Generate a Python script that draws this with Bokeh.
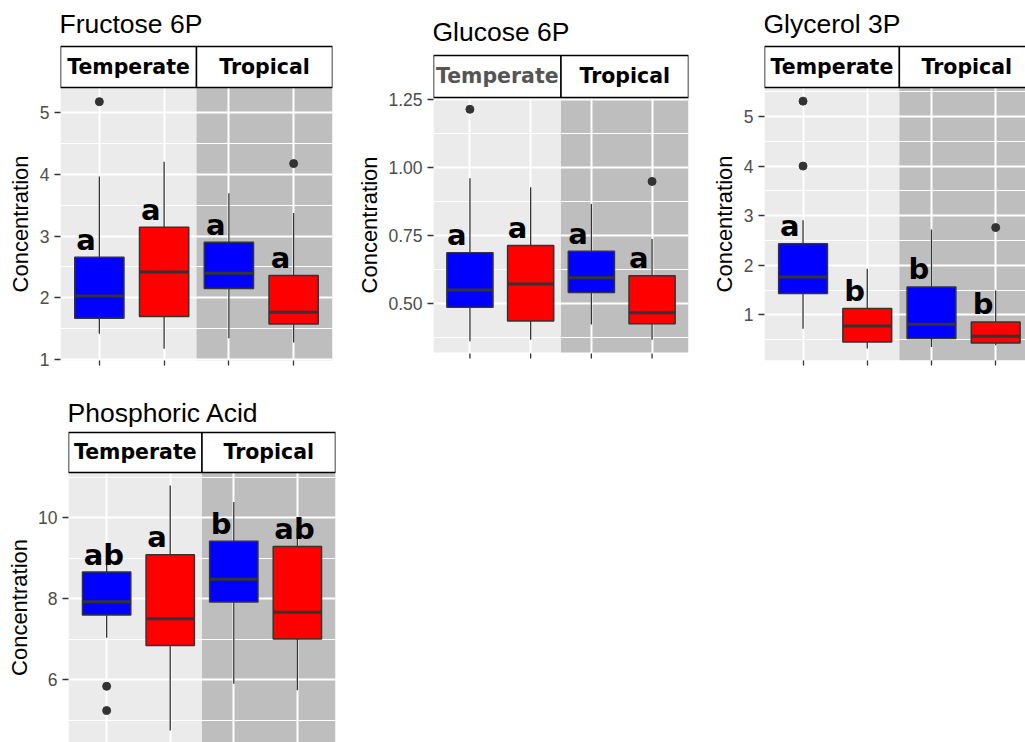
from bokeh.plotting import figure
from bokeh.layouts import row, column
from bokeh.models import Range1d, FixedTicker, NumeralTickFormatter, Title
from bokeh.core.properties import value
from bokeh.embed import file_html
from bokeh.resources import INLINE

# ---------------- data ----------------
regions = ["Temperate", "Tropical"]
box_x = [1, 2, 3, 4]            # Temperate-blue, Temperate-red, Tropical-blue, Tropical-red
box_colors = ["#0000FF", "#FF0000", "#0000FF", "#FF0000"]
titles = ["Fructose 6P", "Glucose 6P", "Glycerol 3P", "Phosphoric Acid"]
y_title = "Concentration"

fru_low = [1.42, 1.18, 1.35, 1.28]
fru_q1 = [1.67, 1.70, 2.15, 1.58]
fru_med = [2.03, 2.42, 2.40, 1.77]
fru_q3 = [2.655, 3.14, 2.90, 2.36]
fru_high = [3.96, 4.20, 3.69, 3.37]
fru_out_x = [1, 4]
fru_out_y = [5.17, 4.17]
fru_letters = ["a", "a", "a", "a"]
fru_ticks = [1, 2, 3, 4, 5]

glu_low = [0.36, 0.365, 0.421, 0.365]
glu_q1 = [0.485, 0.434, 0.539, 0.424]
glu_med = [0.549, 0.571, 0.594, 0.465]
glu_q3 = [0.686, 0.713, 0.692, 0.601]
glu_high = [0.961, 0.928, 0.866, 0.737]
glu_out_x = [1, 4]
glu_out_y = [1.215, 0.949]
glu_letters = ["a", "a", "a", "a"]
glu_ticks = [0.5, 0.75, 1.0, 1.25]

gly_low = [0.72, 0.32, 0.35, 0.385]
gly_q1 = [1.43, 0.45, 0.52, 0.43]
gly_med = [1.76, 0.775, 0.81, 0.567]
gly_q3 = [2.435, 1.125, 1.56, 0.855]
gly_high = [2.905, 1.93, 2.72, 1.49]
gly_out_x = [1, 1, 4]
gly_out_y = [5.31, 4.0, 2.76]
gly_letters = ["a", "b", "b", "b"]
gly_ticks = [1, 2, 3, 4, 5]

pho_low = [7.04, 4.75, 5.90, 5.74]
pho_q1 = [7.60, 6.85, 7.92, 7.01]
pho_med = [7.93, 7.51, 8.48, 7.67]
pho_q3 = [8.66, 9.09, 9.42, 9.29]
pho_high = [8.95, 10.80, 10.39, 9.75]
pho_out_x = [1, 1]
pho_out_y = [5.84, 5.24]
pho_letters = ["ab", "a", "b", "ab"]
pho_ticks = [6, 8, 10]

# ---------------- layout / style ----------------
FACET_EDGES = [0.4, 2.5, 4.6]
TXT = "Liberation Sans"
TITLE_FS = 26.5
STRIP_FS = 20.5
LETTER_FS = 29
YLAB_FS = 22
YLAB_LEN = 6.225 * YLAB_FS   # approx. advance length of the y-axis title
MID = 0.3465   # distance (em) from alphabetic baseline to the em-box middle
DARK = "#333333"


def make_panel(title, low, q1, med, q3, high, out_x, out_y, letters, ticks, cfg):
    W, H = cfg["width"], cfg["height"]
    mbl, mbr, mbb = cfg["mbl"], cfg["mbr"], cfg["mbb"]
    xr0, xr1 = cfg["xr"]
    fy0 = cfg["fig_top"]
    fbot = fy0 + H - mbb
    pbot_px = cfg["panel_bottom"]
    (va, pa), (vb, pb) = cfg["anchors"]
    k = (vb - va) / (pa - pb)

    def v(px):  # screen-pixel row -> data value (layout helper)
        return va + (pa - px) * k

    yr0 = v(fbot)
    yr1 = v(fy0)
    ptop = v(cfg["panel_top"])
    pbot = v(pbot_px)

    p = figure(width=W, height=H, x_range=Range1d(xr0, xr1), y_range=Range1d(yr0, yr1),
               toolbar_location=None, output_backend="svg", title=None,
               min_border_left=mbl, min_border_right=mbr, min_border_top=0,
               min_border_bottom=mbb,
               x_axis_location="below" if cfg["show_x"] else None)
    p.outline_line_color = None
    p.background_fill_color = "white"
    p.border_fill_color = "white"

    # facet backgrounds
    p.quad(left=FACET_EDGES[:2], right=FACET_EDGES[1:], bottom=[pbot, pbot], top=[ptop, ptop],
           fill_color=["#EBEBEB", "#BEBEBE"], line_color=None, level="image")

    # grids
    p.xgrid.ticker = FixedTicker(ticks=box_x)
    p.ygrid.ticker = FixedTicker(ticks=ticks, minor_ticks=cfg["minor"])
    p.xgrid.grid_line_color = "white"
    p.xgrid.grid_line_width = 2
    p.ygrid.grid_line_color = "white"
    p.ygrid.grid_line_width = 2
    p.ygrid.minor_grid_line_color = "white"
    p.ygrid.minor_grid_line_width = 1

    for ya in p.yaxis:
        ya.ticker = FixedTicker(ticks=ticks)
        ya.axis_line_color = None
        ya.minor_tick_line_color = None
        ya.major_tick_line_color = DARK
        ya.major_tick_line_width = 1.3
        ya.major_tick_out = 6
        ya.major_tick_in = 0
        ya.major_label_standoff = 5
        ya.major_label_text_font = TXT
        ya.major_label_text_font_size = "17.5px"
        ya.major_label_text_color = "#4D4D4D"
        if cfg.get("fmt"):
            ya.formatter = NumeralTickFormatter(format=cfg["fmt"])

    inner_ticks = pbot_px < fbot - 1
    for xa in p.xaxis:
        xa.ticker = FixedTicker(ticks=box_x)
        xa.axis_line_color = None
        xa.minor_tick_line_color = None
        xa.major_tick_line_color = None if inner_ticks else DARK
        xa.major_tick_line_width = 1.3
        xa.major_tick_out = 5
        xa.major_tick_in = 0
        xa.major_label_text_font_size = "1px"
        xa.major_label_text_color = None
        xa.major_label_standoff = 0
    if cfg["show_x"] and inner_ticks:
        # panel ends above the (row-aligned) frame bottom: draw the x tick marks under it
        p.segment(x0=box_x, y0=[v(pbot_px + 1)] * 4, x1=box_x, y1=[v(pbot_px + 6)] * 4,
                  line_color=DARK, line_width=1.3)

    # y-axis title, centred on the panel area (not on the strip)
    pcen = (cfg["panel_top"] + pbot_px) / 2
    p.add_layout(Title(text=y_title, align="left", offset=fbot - (pcen + YLAB_LEN / 2),
                       standoff=cfg["ylab_standoff"], text_font=TXT,
                       text_font_size=f"{YLAB_FS}px", text_font_style="normal",
                       text_color="black"), "left")

    # strip (facet labels) above the panel
    stop = v(cfg["strip_top"])
    p.quad(left=FACET_EDGES[:2], right=FACET_EDGES[1:], bottom=[ptop, ptop], top=[stop, stop],
           fill_color="white", line_color="black", line_width=1.5)
    centers = [(FACET_EDGES[0] + FACET_EDGES[1]) / 2, (FACET_EDGES[1] + FACET_EDGES[2]) / 2]
    smid = v((cfg["strip_top"] + cfg["panel_top"]) / 2 - 0.5)
    p.text(x=centers, y=[smid, smid], text=regions,
           text_align="center", text_baseline="middle",
           text_font=value("DejaVu Sans"), text_font_style="bold",
           text_font_size=f"{STRIP_FS}px", text_color=cfg["strip_colors"])

    # panel title
    tmid = v(cfg["title_base"] - MID * TITLE_FS)
    p.text(x=[FACET_EDGES[0]], y=[tmid], text=[title], x_offset=-1,
           text_align="left", text_baseline="middle",
           text_font=value(TXT), text_font_size=f"{TITLE_FS}px", text_color="black")

    # whiskers
    p.segment(x0=box_x, y0=q3, x1=box_x, y1=high, line_color=DARK, line_width=1.3)
    p.segment(x0=box_x, y0=q1, x1=box_x, y1=low, line_color=DARK, line_width=1.3)
    # boxes
    bw = 0.76
    p.vbar(x=box_x, width=bw, top=q3, bottom=q1, fill_color=box_colors,
           line_color=DARK, line_width=1.5)
    p.segment(x0=[c - bw / 2 for c in box_x], y0=med, x1=[c + bw / 2 for c in box_x], y1=med,
              line_color=DARK, line_width=3)
    # outliers
    p.scatter(x=out_x, y=out_y, size=8, fill_color=DARK, line_color=DARK)
    # significance letters (baseline ~7.5px above the upper hinge)
    p.text(x=box_x, y=q3, text=letters, x_offset=-23, y_offset=-(7.5 + MID * LETTER_FS),
           text_align="left", text_baseline="middle",
           text_font=value("DejaVu Sans"), text_font_style="bold",
           text_font_size=f"{LETTER_FS}px", text_color="black")
    return p


ROW1_H = 395
ROW1_MBB = ROW1_H - 360   # frames in a row share their bottom border
cfg1 = dict(width=345, height=ROW1_H, mbl=60, mbr=13, mbb=ROW1_MBB, fig_top=0,
            panel_top=87, panel_bottom=360, strip_top=46, title_base=33,
            anchors=[(1, 359.3), (5, 111.7)],
            xr=(0.4, 4.6), minor=[1.5, 2.5, 3.5, 4.5], ylab_standoff=8,
            strip_colors=["black", "black"], show_x=True)
cfg2 = dict(width=360, height=ROW1_H, mbl=88, mbr=17, mbb=ROW1_MBB, fig_top=0,
            panel_top=97, panel_bottom=352, strip_top=55, title_base=41,
            anchors=[(0.5, 302.7), (1.25, 99.3)],
            xr=(0.4, 4.6), minor=[0.375, 0.625, 0.875, 1.125], ylab_standoff=8,
            strip_colors=["#555555", "black"], show_x=True, fmt="0.00")
cfg3 = dict(width=320, height=ROW1_H, mbl=58, mbr=0, mbb=ROW1_MBB, fig_top=0,
            panel_top=87, panel_bottom=360, strip_top=46, title_base=33,
            anchors=[(1, 314.3), (5, 116.0)],
            xr=(0.4, 0.4 + 262 / 64.47), minor=[0.5, 1.5, 2.5, 3.5, 4.5, 5.5],
            ylab_standoff=8, strip_colors=["black", "black"], show_x=True)
cfg4 = dict(width=345, height=742 - ROW1_H, mbl=66, mbr=10, mbb=0, fig_top=ROW1_H,
            panel_top=472, panel_bottom=742, strip_top=432, title_base=422,
            anchors=[(6, 679.3), (10, 517.3)],
            xr=(0.4, 4.6), minor=[5, 7, 9, 11], ylab_standoff=8,
            strip_colors=["black", "black"], show_x=False)

p1 = make_panel(titles[0], fru_low, fru_q1, fru_med, fru_q3, fru_high, fru_out_x, fru_out_y,
                fru_letters, fru_ticks, cfg1)
p2 = make_panel(titles[1], glu_low, glu_q1, glu_med, glu_q3, glu_high, glu_out_x, glu_out_y,
                glu_letters, glu_ticks, cfg2)
p3 = make_panel(titles[2], gly_low, gly_q1, gly_med, gly_q3, gly_high, gly_out_x, gly_out_y,
                gly_letters, gly_ticks, cfg3)
p4 = make_panel(titles[3], pho_low, pho_q1, pho_med, pho_q3, pho_high, pho_out_x, pho_out_y,
                pho_letters, pho_ticks, cfg4)

layout = column(row(p1, p2, p3, spacing=0), p4, spacing=0)

open("out.html", "w").write(file_html(layout, INLINE))
